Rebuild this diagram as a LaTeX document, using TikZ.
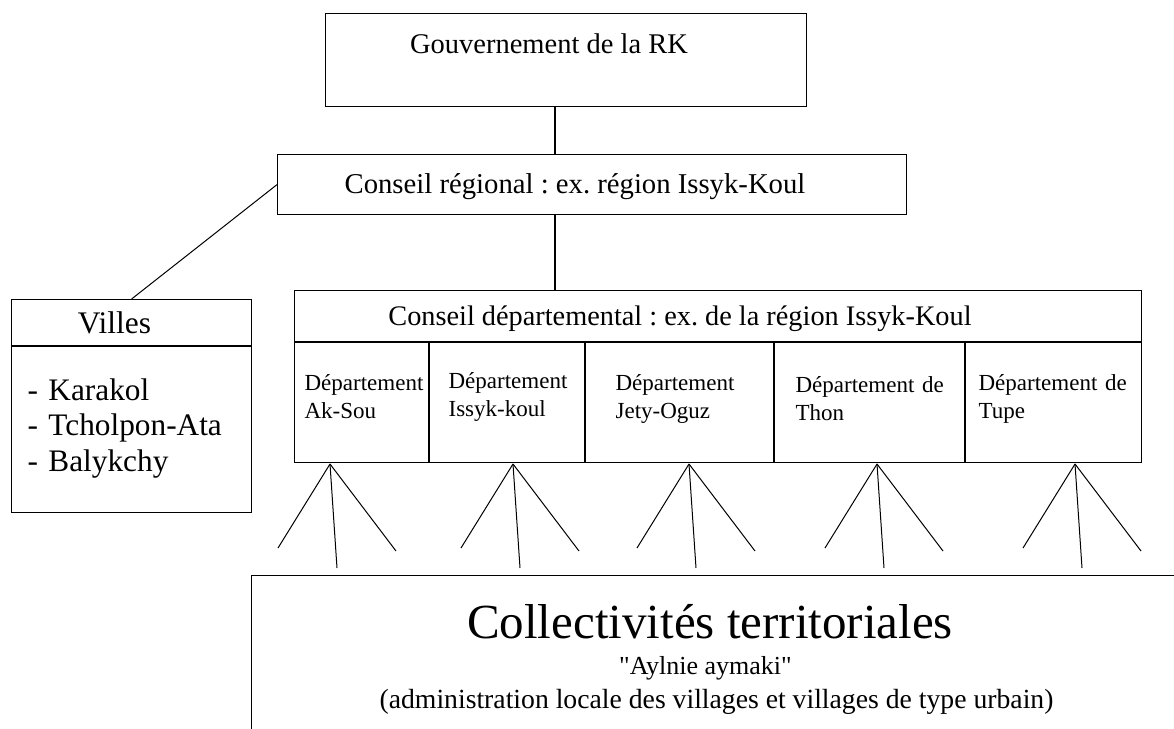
\documentclass[tikz,border=0pt]{standalone}
\usepackage{fontspec}
\setmainfont{Liberation Serif}[Ligatures=TeXOff]
\frenchspacing
\begin{document}
\begin{tikzpicture}[x=1pt,y=-1pt,line width=1.2pt,
    box/.style={draw,rectangle,inner sep=0pt,anchor=north west},
    txt/.style={inner sep=0pt,anchor=base},
    cell/.style={inner sep=0pt,anchor=base west,align=left,text width=160pt,
      font=\fontsize{23}{28.5}\selectfont}]
  \clip (0,0) rectangle (1174,728);
  % boxes
  \node[box,minimum width=481pt,minimum height=93pt] (gouv) at (325,13) {};
  \node[box,minimum width=629pt,minimum height=60pt] (reg) at (277,154) {};
  \node[box,minimum width=240pt,minimum height=213pt] (villes) at (11,299) {};
  \node[box,minimum width=847pt,minimum height=172pt] (dept) at (294,290) {};
  \node[box,minimum width=1000pt,minimum height=200pt] (coll) at (251,575) {};
  \draw (villes.west |- 0,346) -- (villes.east |- 0,346);
  \draw (dept.west |- 0,342) -- (dept.east |- 0,342);
  \foreach \x in {429,585,774,965}
    \draw (\x,342) -- (\x,0 |- dept.south);
  % texts
  \node[txt,font=\fontsize{28.5}{34}\selectfont] (gouvtxt) at (549,53) {Gouvernement de la RK};
  \node[txt,font=\fontsize{28.7}{34}\selectfont] (regtxt) at (575,193) {Conseil régional : ex. région Issyk-Koul};
  \node[txt,font=\fontsize{28.3}{34}\selectfont] (depttxt) at (680,325) {Conseil départemental : ex. de la région Issyk-Koul};
  \node[txt,font=\fontsize{31.4}{36}\selectfont] (villestxt) at (114.5,333) {Villes};
  \node[txt,anchor=base west,align=left,text width=220pt,
    font=\fontsize{31.3}{35.5}\selectfont] (villeslist) at (27,400)
    {- Karakol\\- Tcholpon-Ata\\- Balykchy};
  \node[cell] (aksou) at (304,390) {Département\\Ak-Sou};
  \node[cell] (issyk) at (448,388) {Département\\Issyk-koul};
  \node[cell] (jety) at (615,390) {Département\\Jety-Oguz};
  \node[cell] (thon) at (795,392) {Département de\\Thon};
  \node[cell] (tupe) at (978,390) {Département de\\Tupe};
  \node[txt,font=\fontsize{49}{56}\selectfont] (colltxt) at (710,638) {Collectivités territoriales};
  \node[txt,font=\fontsize{26}{30}\selectfont] (aymtxt) at (705.5,674) {"Aylnie aymaki"};
  \node[txt,font=\fontsize{27.7}{32}\selectfont] (admtxt) at (716.5,708)
    {(administration locale des villages et villages de type urbain)};
  % connectors
  \coordinate (link) at (555,0);
  \draw (gouv.south -| link) -- (reg.north -| link);
  \draw (reg.south -| link) -- (dept.north -| link);
  \draw[line width=1pt] (reg.west) -- (villes.north);
  \foreach \a in {330,513,689,877,1075}{
    \coordinate (apex) at (\a,464);
    \draw[line width=1pt] (apex) -- ++(-52,84);
    \draw[line width=1pt] (apex) -- ++(7,104);
    \draw[line width=1pt] (apex) -- ++(66,87);
  }
\end{tikzpicture}
\end{document}
